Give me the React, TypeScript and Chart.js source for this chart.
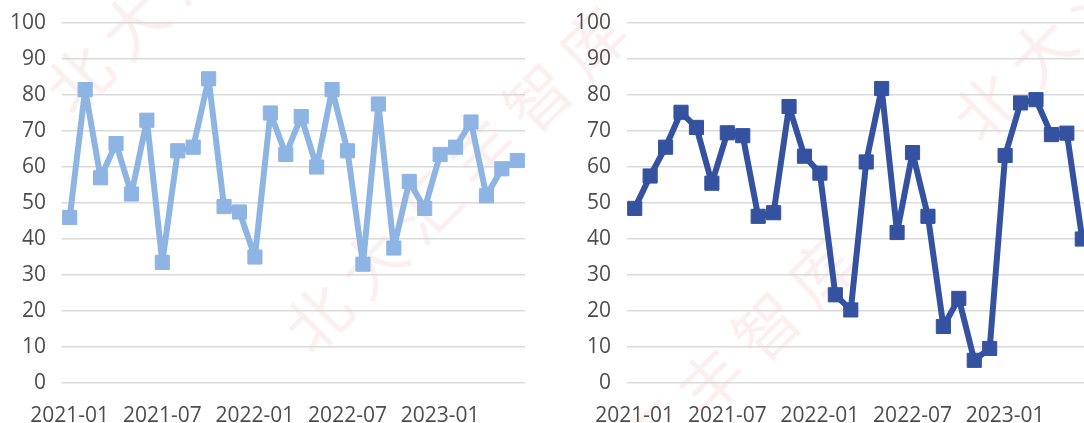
import React, { useEffect, useRef } from "react";
import { Chart, registerables } from "chart.js";

Chart.register(...registerables);

// ---- data ----
const MONTHS = [
  "2021-01", "2021-02", "2021-03", "2021-04", "2021-05", "2021-06",
  "2021-07", "2021-08", "2021-09", "2021-10", "2021-11", "2021-12",
  "2022-01", "2022-02", "2022-03", "2022-04", "2022-05", "2022-06",
  "2022-07", "2022-08", "2022-09", "2022-10", "2022-11", "2022-12",
  "2023-01", "2023-02", "2023-03", "2023-04", "2023-05", "2023-06",
];

const SERIES_LEFT = [
  46, 81.5, 57, 66.5, 52.5, 73, 33.5, 64.5, 65.5, 84.5,
  49, 47.5, 35, 75, 63.5, 74, 60, 81.5, 64.5, 33,
  77.5, 37.5, 56, 48.5, 63.5, 65.5, 72.5, 52, 59.5, 61.8,
];

const SERIES_RIGHT = [
  48.5, 57.5, 65.5, 75.2, 71, 55.5, 69.5, 68.7, 46.3, 47.3,
  76.8, 63, 58.3, 24.5, 20.3, 61.4, 81.8, 41.8, 64, 46.3,
  15.7, 23.5, 6.3, 9.6, 63.2, 77.8, 78.7, 69, 69.4, 40,
];

const Y_MIN = 0;
const Y_MAX = 100;
const Y_STEP = 10;
const X_LABEL_EVERY = 6;

const WATERMARK = "北大汇丰智库";

const FONT = "'Open Sans', 'Noto Sans', sans-serif";
const TEXT_COLOR = "#4d4d4d";

function LineChart(props: { data: number[]; color: string; left: number }) {
  const ref = useRef<HTMLCanvasElement | null>(null);
  useEffect(() => {
    if (!ref.current) return;
    const chart = new Chart(ref.current, {
      type: "line",
      data: {
        labels: MONTHS,
        datasets: [
          {
            data: props.data,
            borderColor: props.color,
            backgroundColor: props.color,
            borderWidth: 6,
            tension: 0,
            pointStyle: "rect",
            pointRadius: 10,
            pointHoverRadius: 10,
            pointBackgroundColor: props.color,
            pointBorderColor: props.color,
            pointBorderWidth: 1,
            borderJoinStyle: "round",
            borderCapStyle: "round",
          },
        ],
      },
      options: {
        animation: false,
        responsive: false,
        maintainAspectRatio: false,
        devicePixelRatio: 1,
        layout: { padding: { top: 23, right: 15, left: 0, bottom: 0 } },
        plugins: {
          legend: { display: false },
          tooltip: { enabled: false },
          title: { display: false },
        },
        scales: {
          x: {
            type: "category",
            offset: true,
            grid: { display: false, drawTicks: false },
            border: { display: false },
            afterFit: (axis: any) => {
              axis.height = 40;
              axis.paddingLeft = 0;
              axis.paddingRight = 0;
            },
            ticks: {
              autoSkip: false,
              maxRotation: 0,
              minRotation: 0,
              padding: 20,
              color: TEXT_COLOR,
              font: { family: FONT, size: 21 },
              callback: (_v: any, i: number) =>
                i % X_LABEL_EVERY === 0 ? MONTHS[i] : "",
            },
          },
          y: {
            min: Y_MIN,
            max: Y_MAX,
            grid: { color: "#D9D9D9", lineWidth: 1.5, drawTicks: false },
            border: { display: false },
            afterFit: (axis: any) => {
              axis.width = 62;
              axis.paddingTop = 0;
              axis.paddingBottom = 0;
            },
            ticks: {
              stepSize: Y_STEP,
              padding: 16,
              color: TEXT_COLOR,
              font: { family: FONT, size: 21 },
            },
          },
        },
      },
    });
    return () => chart.destroy();
  }, []);
  return (
    <canvas
      ref={ref}
      width={540}
      height={423}
      style={{ position: "absolute", left: props.left, top: 0, width: 540, height: 423 }}
    />
  );
}

function Watermark() {
  const chars = WATERMARK.split("");
  const diagonals = [152, 630, 1088];
  const items: React.ReactNode[] = [];
  diagonals.forEach((s, di) => {
    for (let m = -1; m <= 2; m++) {
      chars.forEach((c, k) => {
        const u = 110 * k + 880 * m;
        const x = (s + u) / 2;
        const y = (s - u) / 2;
        if (x < -60 || x > 1150 || y < -60 || y > 480) return;
        items.push(
          <span
            key={`${di}-${m}-${k}`}
            style={{
              position: "absolute",
              left: x,
              top: y,
              transform: "translate(-50%, -50%) rotate(-45deg)",
              fontFamily: "'Noto Sans CJK SC', sans-serif",
              fontSize: 64,
              lineHeight: "64px",
              color: "rgba(225, 80, 80, 0.09)",
              whiteSpace: "nowrap",
            }}
          >
            {c}
          </span>
        );
      });
    }
  });
  return <div style={{ position: "absolute", left: 0, top: 0, width: 1084, height: 423 }}>{items}</div>;
}

export default function App() {
  return (
    <div
      style={{
        position: "absolute",
        left: 0,
        top: 0,
        width: 1084,
        height: 423,
        overflow: "hidden",
        background: "#ffffff",
      }}
    >
      <Watermark />
      <LineChart data={SERIES_LEFT} color="#8EB4E3" left={0} />
      <LineChart data={SERIES_RIGHT} color="#3452A0" left={565} />
    </div>
  );
}
